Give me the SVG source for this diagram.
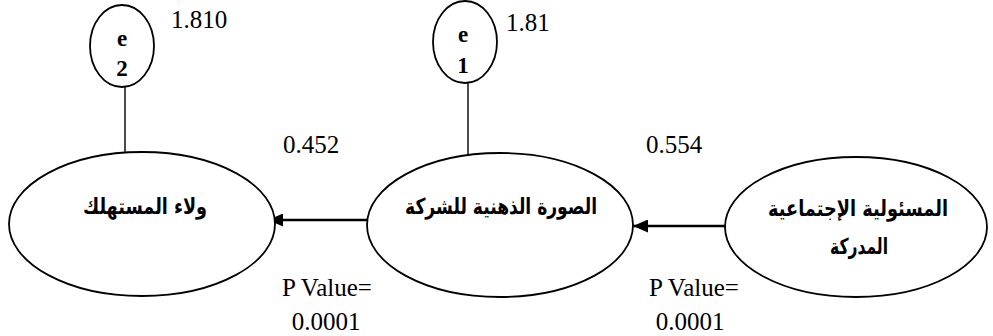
<svg xmlns="http://www.w3.org/2000/svg" width="993" height="336" viewBox="0 0 993 336">
<style>
.node{fill:#fff;stroke:#000;stroke-width:1.8}
.err{fill:#fff;stroke:#000;stroke-width:1.8}
.ar{font-family:"DejaVu Sans","Noto Sans",sans-serif;font-weight:bold;font-size:22px;fill:#000;text-anchor:middle}
.num{font-size:25px;fill:#000}
.eb{font-weight:bold;font-size:23px;fill:#000;text-anchor:middle}
.link{stroke:#000;stroke-width:2.5;fill:none}
.thin{stroke:#000;stroke-width:1.4;fill:none}
</style>
<defs>
<marker id="ah" markerWidth="15" markerHeight="13" refX="15" refY="6.5" orient="auto" markerUnits="userSpaceOnUse">
<path d="M0,0 L15,6.5 L0,13 Z" fill="#000"/>
</marker>
</defs>
<g id="connectors">
<line class="thin" x1="125" y1="87" x2="125" y2="153"/>
<line class="thin" x1="468" y1="83" x2="468" y2="155"/>
<line class="link" x1="378" y1="220" x2="268" y2="220" marker-end="url(#ah)"/>
<line class="link" x1="735" y1="226" x2="633" y2="226" marker-end="url(#ah)"/>
</g>
<g id="node-loyalty">
<ellipse class="node" cx="142" cy="224" rx="133" ry="72"/>
<text class="ar" x="145" y="214" direction="rtl" textLength="124" lengthAdjust="spacingAndGlyphs">ولاء المستهلك</text>
</g>
<g id="node-image">
<ellipse class="node" cx="500" cy="225" rx="133" ry="72"/>
<text class="ar" x="501" y="214" direction="rtl" textLength="192" lengthAdjust="spacingAndGlyphs">الصورة الذهنية للشركة</text>
</g>
<g id="node-csr">
<ellipse class="node" cx="856" cy="227" rx="131" ry="70"/>
<text class="ar" x="858" y="216" direction="rtl" textLength="180" lengthAdjust="spacingAndGlyphs">المسئولية الإجتماعية</text>
<text class="ar" x="859" y="254" direction="rtl" textLength="58" lengthAdjust="spacingAndGlyphs">المدركة</text>
</g>
<g id="node-e2" font-family="Liberation Serif, serif">
<ellipse class="err" cx="122" cy="46" rx="32" ry="41"/>
<text class="eb" x="122" y="46">e</text>
<text class="eb" x="122" y="76">2</text>
</g>
<g id="node-e1" font-family="Liberation Serif, serif">
<ellipse class="err" cx="465" cy="42" rx="32" ry="41"/>
<text class="eb" x="463" y="42">e</text>
<text class="eb" x="463" y="73">1</text>
</g>
<g id="labels" font-family="Liberation Serif, serif">
<text class="num" x="171" y="28">1.810</text>
<text class="num" x="506" y="31">1.81</text>
<text class="num" x="283" y="153">0.452</text>
<text class="num" x="646" y="153">0.554</text>
<text class="num" x="327" y="296" text-anchor="middle">P Value=</text>
<text class="num" x="326" y="330" text-anchor="middle">0.0001</text>
<text class="num" x="694" y="296" text-anchor="middle">P Value=</text>
<text class="num" x="690" y="330" text-anchor="middle">0.0001</text>
</g>
</svg>
